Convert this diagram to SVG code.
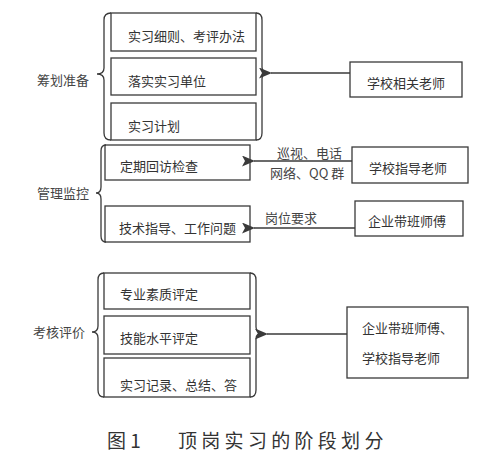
<svg xmlns="http://www.w3.org/2000/svg" width="487" height="467" viewBox="0 0 487 467">
<style>
.box{fill:none;stroke:#3a3a3a;stroke-width:1.3}
.br{fill:none;stroke:#3a3a3a;stroke-width:1.3}
.t{font-family:"Noto Sans CJK SC",sans-serif;font-size:13px;fill:#333}
.lab{font-family:"Noto Sans CJK SC",sans-serif;font-size:13px;fill:#444}
.con{stroke:#3a3a3a;stroke-width:1.3;fill:none}
</style>
<defs>
<marker id="ah" viewBox="0 0 13 11" refX="1" refY="5.5" markerWidth="13" markerHeight="11" markerUnits="userSpaceOnUse" orient="auto">
<path d="M13,0 L0,5.5 L13,11 L10,5.5 Z" fill="#3a3a3a"/>
</marker>
</defs>
<rect width="487" height="467" fill="#fff"/>

<g id="stage1">
<text class="lab" x="37" y="85">筹划准备</text>
<path class="br" d="M111,13 Q104,13 104,20 L104,68 Q104,74 97,74 Q104,74 104,80 L104,133 Q104,140 111,140"/>
<path class="br" d="M256,13 Q262,13 262,20 L262,67 Q262,73 268,73 Q262,73 262,79 L262,133 Q262,140 256,140"/>
</g>
<g id="n1"><rect class="box" x="111" y="13" width="145" height="38"/><text class="t" x="128" y="41">实习细则、考评办法</text></g>
<g id="n2"><rect class="box" x="111" y="58" width="145" height="37"/><text class="t" x="128" y="86">落实实习单位</text></g>
<g id="n3"><rect class="box" x="111" y="103" width="145" height="37"/><text class="t" x="128" y="131">实习计划</text></g>
<g id="n4"><rect class="box" x="350" y="62" width="112" height="35"/><text class="t" x="367" y="88">学校相关老师</text></g>

<g id="stage2">
<text class="lab" x="37" y="198">管理监控</text>
<path class="br" d="M106,145 Q101,145 101,151 L101,187 Q101,193 96,193 Q101,193 101,199 L101,236 Q101,242 106,242"/>
</g>
<g id="n5"><rect class="box" x="105" y="145" width="145" height="35"/><text class="t" x="120" y="171">定期回访检查</text></g>
<g id="n6"><rect class="box" x="105" y="206" width="145" height="36"/><text class="t" x="119" y="233">技术指导、工作问题</text></g>
<g id="n7"><rect class="box" x="352" y="147" width="116" height="36"/><text class="t" x="369" y="173">学校指导老师</text></g>
<g id="n8"><rect class="box" x="355" y="201" width="108" height="35"/><text class="t" x="368" y="226">企业带班师傅</text></g>

<g id="stage3">
<text class="lab" x="33" y="337">考核评价</text>
<path class="br" d="M104,273 Q98,273 98,280 L98,326 Q98,332 92,332 Q98,332 98,338 L98,390 Q98,397 104,397"/>
<path class="br" d="M250,273 Q256,273 256,280 L256,327 Q256,333 263,333 Q256,333 256,339 L256,390 Q256,397 250,397"/>
</g>
<g id="n9"><rect class="box" x="104" y="273" width="146" height="36"/><text class="t" x="120" y="299">专业素质评定</text></g>
<g id="n10"><rect class="box" x="104" y="316" width="146" height="38"/><text class="t" x="120" y="343">技能水平评定</text></g>
<g id="n11"><rect class="box" x="104" y="358" width="146" height="39"/><text class="t" x="120" y="390">实习记录、总结、答</text></g>
<g id="n12"><rect class="box" x="347" y="307" width="121" height="71"/><text class="t" x="362" y="333">企业带班师傅、</text><text class="t" x="362" y="363">学校指导老师</text></g>

<g id="connectors">
<line class="con" x1="350" y1="73" x2="271" y2="73" marker-end="url(#ah)"/>
<line class="con" x1="352" y1="161" x2="254" y2="161" marker-end="url(#ah)"/>
<text class="lab" x="277" y="158">巡视、电话</text>
<text class="lab" x="270" y="178">网络、QQ 群</text>
<line class="con" x1="355" y1="228" x2="254" y2="228" marker-end="url(#ah)"/>
<text class="lab" x="265" y="223">岗位要求</text>
<line class="con" x1="347" y1="334" x2="267" y2="334" marker-end="url(#ah)"/>
</g>

<text x="107" y="448" font-family="Noto Sans CJK SC,sans-serif" font-size="19" fill="#333" xml:space="preserve">图 1</text>
<text x="178" y="448" font-family="Noto Sans CJK SC,sans-serif" font-size="19" letter-spacing="4.3" fill="#333">顶岗实习的阶段划分</text>
</svg>
